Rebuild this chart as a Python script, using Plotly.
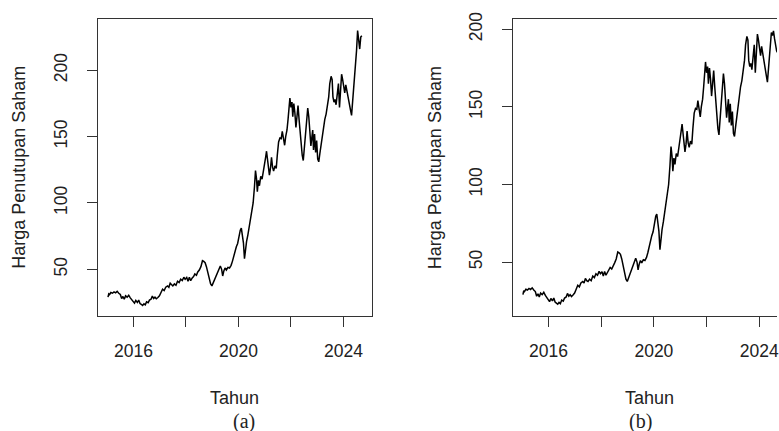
import plotly.graph_objects as go

# Weekly closing price (decimal year, price) shared by both panels
years = [
    2015.03, 2015.06, 2015.09, 2015.14, 2015.20, 2015.26, 2015.32, 2015.38, 2015.44, 2015.50,
    2015.55, 2015.60, 2015.65, 2015.70, 2015.76, 2015.82, 2015.88, 2015.93, 2015.98, 2016.04,
    2016.09, 2016.15, 2016.20, 2016.25, 2016.30, 2016.35, 2016.40, 2016.45, 2016.50, 2016.56,
    2016.61, 2016.67, 2016.72, 2016.77, 2016.82, 2016.87, 2016.93, 2016.99, 2017.05, 2017.11,
    2017.17, 2017.23, 2017.30, 2017.35, 2017.40, 2017.45, 2017.50, 2017.56, 2017.62, 2017.68,
    2017.74, 2017.80, 2017.86, 2017.92, 2017.97, 2018.03, 2018.08, 2018.13, 2018.18, 2018.24,
    2018.29, 2018.34, 2018.40, 2018.45, 2018.51, 2018.57, 2018.63, 2018.68, 2018.73, 2018.78,
    2018.84, 2018.89, 2018.94, 2018.99, 2019.04, 2019.10, 2019.15, 2019.21, 2019.26, 2019.31,
    2019.36, 2019.40, 2019.44, 2019.49, 2019.54, 2019.60, 2019.66, 2019.72, 2019.77, 2019.82,
    2019.87, 2019.92, 2019.97, 2020.02, 2020.07, 2020.11, 2020.15, 2020.19, 2020.23, 2020.27,
    2020.31, 2020.36, 2020.41, 2020.46, 2020.51, 2020.56, 2020.61, 2020.65, 2020.69, 2020.72,
    2020.76, 2020.80, 2020.85, 2020.90, 2020.95, 2021.00, 2021.04, 2021.07, 2021.10, 2021.14,
    2021.18, 2021.22, 2021.26, 2021.30, 2021.34, 2021.39, 2021.44, 2021.48, 2021.53, 2021.58,
    2021.63, 2021.67, 2021.71, 2021.76, 2021.80, 2021.85, 2021.89, 2021.93, 2021.96, 2022.00,
    2022.04, 2022.07, 2022.11, 2022.15, 2022.19, 2022.23, 2022.27, 2022.31, 2022.35, 2022.39,
    2022.43, 2022.47, 2022.51, 2022.55, 2022.60, 2022.64, 2022.68, 2022.72, 2022.76, 2022.80,
    2022.83, 2022.86, 2022.90, 2022.94, 2022.98, 2023.02, 2023.06, 2023.10, 2023.15, 2023.19,
    2023.24, 2023.29, 2023.34, 2023.39, 2023.44, 2023.48, 2023.53, 2023.57, 2023.60, 2023.64,
    2023.68, 2023.72, 2023.77, 2023.81, 2023.85, 2023.89, 2023.93, 2023.97, 2024.01, 2024.05,
    2024.09, 2024.13, 2024.18, 2024.22, 2024.27, 2024.31,
]
close = [
    29.0, 31.5, 31.0, 32.5, 32.0, 33.0, 32.3, 33.4, 32.0, 31.0,
    28.0, 29.5, 27.5, 30.0, 29.0, 30.5, 28.5, 27.0, 25.5, 24.5,
    26.5, 25.0, 26.8, 24.2, 23.5, 22.8, 24.0, 23.2, 25.5, 24.8,
    26.8, 27.5, 29.8, 28.0, 29.0, 27.8, 28.8, 30.0, 32.5, 35.0,
    34.0, 36.5, 37.5, 36.5, 39.5, 38.0, 37.5, 39.0, 38.0, 41.0,
    40.0, 42.5, 41.5, 44.0, 42.5, 43.8, 41.0, 44.0, 41.5, 43.5,
    44.5, 46.5, 45.5, 48.0, 49.5, 52.0, 56.5, 56.0, 55.0, 52.0,
    47.0, 42.0, 39.0, 37.5, 40.0, 42.0, 44.5, 47.0, 49.5, 52.5,
    50.0, 45.0, 48.5, 51.0, 49.5, 51.5, 51.0, 53.0, 56.0, 60.0,
    65.0, 67.0, 69.5, 75.0, 79.5, 81.0, 76.0, 70.0, 58.0, 66.0,
    71.0, 76.0, 82.0, 88.0, 94.5, 100.0, 112.0, 124.5, 118.0, 108.5,
    117.0, 113.0, 120.0, 118.0, 124.0, 129.0, 135.0, 139.0, 133.0, 128.0,
    121.0, 126.0, 134.5, 127.0, 124.0, 128.0, 126.0, 136.0, 146.0, 149.0,
    148.5, 154.0, 149.0, 143.5, 150.0, 155.0, 163.0, 170.0, 179.0, 172.0,
    176.0, 165.0, 175.0, 168.0, 157.0, 165.0, 173.5, 163.0, 153.0, 145.0,
    136.0, 132.0, 141.0, 148.0, 160.0, 171.5, 165.0, 155.0, 143.0, 150.0,
    155.0, 140.0, 152.0, 138.0, 147.0, 133.0, 131.0, 137.0, 145.0, 149.0,
    155.0, 163.0, 167.0, 173.0, 180.0, 190.0, 195.5, 193.0, 180.0, 176.0,
    178.0, 174.0, 185.0, 190.0, 172.0, 185.0, 197.0, 193.0, 188.0, 183.0,
    189.0, 184.0, 180.0, 174.0, 170.0, 166.0,
]

# Final weeks of each panel
tail_years_a = [2024.36, 2024.41, 2024.46, 2024.50, 2024.54, 2024.58, 2024.62, 2024.66, 2024.70]
tail_close_a = [178.0, 193.0, 205.0, 215.0, 230.0, 222.0, 216.0, 225.0, 226.0]
tail_years_b = [2024.36, 2024.41, 2024.46, 2024.50, 2024.54, 2024.58, 2024.62, 2024.66, 2024.70]
tail_close_b = [178.0, 190.0, 198.0, 196.0, 199.0, 194.0, 190.0, 186.0, 185.0]

year_ticks = [2016, 2018, 2020, 2022, 2024]
year_labels = ["2016", "", "2020", "", "2024"]
price_ticks = [50, 100, 150, 200]
price_labels = ["50", "100", "150", "200"]

W, H = 779, 431
INK = "#222222"
BOX = "#333333"
SANS = "Liberation Sans, Arial, sans-serif"
SERIF = "Liberation Serif, Times New Roman, serif"

fig = go.Figure()
fig.add_trace(go.Scatter(x=years + tail_years_a, y=close + tail_close_a, mode="lines",
                         line=dict(color="black", width=1.5), xaxis="x", yaxis="y",
                         showlegend=False, hoverinfo="skip"))
fig.add_trace(go.Scatter(x=years + tail_years_b, y=close + tail_close_b, mode="lines",
                         line=dict(color="black", width=1.5), xaxis="x2", yaxis="y2",
                         showlegend=False, hoverinfo="skip"))

y_dom = [1 - 314 / H, 1 - 12 / H]

def xaxis(domain, rng, anchor):
    return dict(domain=domain, range=rng, anchor=anchor, tickmode="array",
                tickvals=year_ticks, ticktext=year_labels, ticks="outside", ticklen=10,
                tickwidth=1.2, tickcolor=BOX, showgrid=False, zeroline=False,
                showline=True, linecolor=BOX, linewidth=1.3, mirror=True,
                ticklabeloverflow="allow",
                tickfont=dict(family=SANS, size=17.5, color=INK), ticklabelstandoff=9)

def yaxis(anchor, rng, mirror):
    return dict(domain=y_dom, range=rng, anchor=anchor, tickmode="array",
                tickvals=price_ticks, ticktext=price_labels, ticks="outside",
                ticklen=10, tickwidth=1.2, tickcolor=BOX, tickangle=-90,
                showgrid=False, zeroline=False, showline=True, linecolor=BOX,
                linewidth=1.3, mirror=mirror,
                tickfont=dict(family=SANS, size=17.5, color=INK), ticklabelstandoff=13)

# panel (b) continues past the right edge of the page
b_left, b_right_full = 514, 790
b_x0, b_x1 = 2014.64, 2025.09
b_x_visible = b_x0 + (b_x1 - b_x0) * (W - b_left) / (b_right_full - b_left)

fig.update_layout(
    width=W, height=H, autosize=False,
    margin=dict(l=0, r=0, t=0, b=0),
    paper_bgcolor="white", plot_bgcolor="white",
    xaxis=xaxis([98 / W, 373 / W], [2014.64, 2025.09], "y"),
    yaxis=yaxis("x", [14.9, 238.8], True),
    xaxis2=xaxis([b_left / W, 1.0], [b_x0, b_x_visible], "y2"),
    yaxis2=yaxis("x2", [15.3, 206.8], False),
)

def note(text, x, y, size=18, angle=0, family=SANS):
    fig.add_annotation(text=text, x=x / W, y=1 - y / H, xref="paper", yref="paper",
                       showarrow=False, textangle=angle, xanchor="center",
                       yanchor="middle", font=dict(family=family, size=size, color=INK))

note("Harga Penutupan Saham", 19.5, 163, angle=-90)
note("Harga Penutupan Saham", 436, 163, angle=-90)
note("Tahun", 235, 397)
note("Tahun", 651.5, 397)
note("(a)", 245, 421, size=20, family=SERIF)
note("(b)", 642.5, 421, size=20, family=SERIF)

fig.write_html("out.html")
